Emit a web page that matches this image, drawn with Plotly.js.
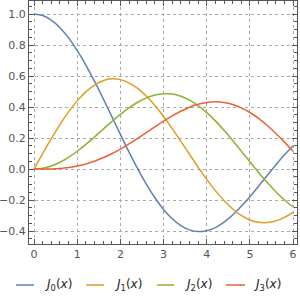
<!DOCTYPE html>
<html><head><meta charset="utf-8">
<script src="https://cdn.plot.ly/plotly-3.0.1.min.js"></script>
<style>html,body{margin:0;padding:0;background:#fff}#c{width:300px;height:300px}</style>
</head><body><div id="c"></div>
<script>
const xs = [0,0.2,0.4,0.6,0.8,1.0,1.2,1.4,1.6,1.8,2.0,2.2,2.4,2.6,2.8,3.0,3.2,3.4,3.6,3.8,4.0,4.2,4.4,4.6,4.8,5.0,5.2,5.4,5.6,5.8,6.0];
const j0 = [1,0.990,0.960,0.912,0.846,0.765,0.671,0.567,0.455,0.340,0.224,0.110,0.003,-0.097,-0.185,-0.260,-0.320,-0.364,-0.392,-0.403,-0.397,-0.377,-0.342,-0.296,-0.240,-0.178,-0.110,-0.041,0.027,0.092,0.151];
const j1 = [0,0.100,0.196,0.287,0.369,0.440,0.498,0.542,0.570,0.582,0.577,0.556,0.520,0.471,0.410,0.339,0.261,0.179,0.096,0.013,-0.066,-0.139,-0.203,-0.257,-0.299,-0.328,-0.343,-0.345,-0.334,-0.311,-0.277];
const j2 = [0,0.005,0.020,0.044,0.076,0.115,0.159,0.207,0.257,0.306,0.353,0.395,0.431,0.459,0.478,0.486,0.484,0.470,0.445,0.409,0.364,0.311,0.250,0.185,0.116,0.047,-0.022,-0.087,-0.146,-0.199,-0.243];
const j3 = [0,0.000,0.001,0.004,0.010,0.020,0.033,0.051,0.073,0.099,0.129,0.162,0.198,0.235,0.273,0.309,0.343,0.373,0.399,0.418,0.430,0.434,0.430,0.417,0.395,0.365,0.327,0.281,0.230,0.174,0.115];
const names = ['<i>J</i><sub>0</sub>(<i>x</i>)','<i>J</i><sub>1</sub>(<i>x</i>)','<i>J</i><sub>2</sub>(<i>x</i>)','<i>J</i><sub>3</sub>(<i>x</i>)'];
const colors = ['#5E81B5','#E19C24','#8FB032','#EB6235'];
const ys = [j0,j1,j2,j3];
const data = ys.map((y,i)=>({x:xs,y:y,type:'scatter',mode:'lines',name:names[i],showlegend:false,
  line:{color:colors[i],width:1.5,shape:'spline'}}));
// manual legend (pixel positions converted to paper coords)
const L=29, W=268, B=244, H=243;
const px = v=>(v-L)/W, py = v=>(B-v)/H;
const legLine = [[16,34],[86,104],[157,174],[226,245]];
const legText = [43,113,183,252];
const legY = 285;
const shapes = legLine.map((s,i)=>({type:'line',xref:'paper',yref:'paper',x0:px(s[0]),x1:px(s[1]),y0:py(legY),y1:py(legY),
  line:{color:colors[i],width:1.5}}));
const annotations = names.map((n,i)=>({xref:'paper',yref:'paper',x:px(legText[i]),y:py(legY),xanchor:'left',yanchor:'middle',
  text:n,showarrow:false,font:{family:'DejaVu Sans',size:12,color:'#222'}}));
const ax = {showline:true,linecolor:'#555',linewidth:1,mirror:'ticks',ticks:'inside',ticklen:5,tickcolor:'#555',
  showgrid:true,gridcolor:'#aaa',griddash:'dot',gridwidth:1,zeroline:false,
  tickfont:{family:'DejaVu Sans',size:11,color:'#555'}};
const layout = {width:300,height:300,margin:{l:29,r:3,t:1,b:56},paper_bgcolor:'#fff',plot_bgcolor:'#fff',
  xaxis:Object.assign({},ax,{range:[-0.116,6.09],dtick:1,tick0:0,
    minor:{ticks:'inside',ticklen:3,dtick:0.2,tick0:0,tickcolor:'#555',showgrid:false}}),
  yaxis:Object.assign({},ax,{range:[-0.483,1.084],dtick:0.2,tick0:0,tickformat:'.1f',
    minor:{ticks:'inside',ticklen:3,dtick:0.05,tick0:0,tickcolor:'#555',showgrid:false}}),
  showlegend:false,shapes:shapes,annotations:annotations
};
Plotly.newPlot('c',data,layout,{displayModeBar:false,staticPlot:true});
</script></body></html>
